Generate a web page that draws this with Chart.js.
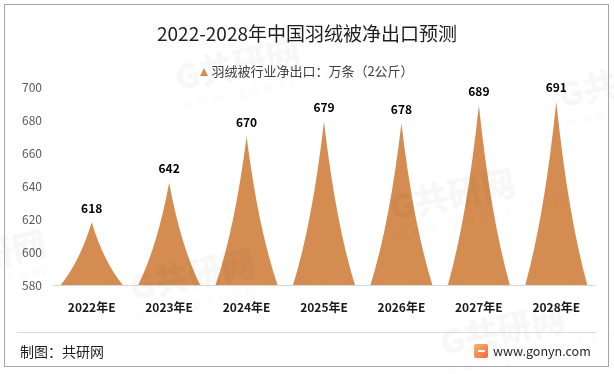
<!DOCTYPE html>
<html>
<head>
<meta charset="utf-8">
<script src="https://cdn.jsdelivr.net/npm/chart.js@4"></script>
<style>
  html, body { margin:0; padding:0; background:#fff; }
  .wrap { position:relative; width:614px; height:374px; overflow:hidden; font-family:"Noto Sans CJK SC","Noto Sans",sans-serif; }
  .wrap canvas { position:absolute; left:0; top:0; }
  .frame { position:absolute; left:4px; top:4px; width:603px; height:361px; border:1px solid #a6a6a6; pointer-events:none; }
  .title { position:absolute; left:0; width:614px; top:20px; text-align:center; font-size:19px; line-height:26px; color:#1e1e1e; }
  .legend { position:absolute; left:0; width:614px; top:62px; text-align:center; font-size:13px; line-height:18px; color:#404040; }
  .legend .mark { display:inline-block; width:0; height:0; border-left:4px solid transparent; border-right:4px solid transparent; border-bottom:8px solid #D48C50; margin-right:3px; vertical-align:0px; }
  .sep { position:absolute; left:17px; width:579px; top:332px; height:1px; background:#d9d9d9; }
  .foot-l { position:absolute; left:20px; top:341px; font-size:14px; line-height:20px; color:#1e1e1e; }
  .foot-r { position:absolute; left:474px; top:341px; font-size:12.5px; line-height:20px; color:#262626; display:flex; align-items:center; gap:5px; }
  .logo { width:14px; height:14px; border-radius:2px; background:linear-gradient(135deg,#f9b26a,#ee6a3c); position:relative; }
  .logo::after { content:''; position:absolute; left:4px; top:6px; width:7px; height:2px; background:#fff; }
  .wm { position:absolute; color:rgba(0,0,0,0.03); font-weight:900; transform:rotate(-12deg); white-space:nowrap; pointer-events:none; }
  .wm b { display:block; font-size:34px; line-height:36px; }
  .wm i { display:block; font-style:normal; font-weight:400; font-size:13px; letter-spacing:6px; }
</style>
</head>
<body>
<div class="wrap">
  <canvas id="chart" width="614" height="374"></canvas>
  <div class="wm" style="left:175px;top:40px"><b>G共研网</b><i>www.gonyn.com</i></div>
  <div class="wm" style="left:390px;top:170px"><b>G共研网</b><i>www.gonyn.com</i></div>
  <div class="wm" style="left:130px;top:250px"><b>G共研网</b><i>www.gonyn.com</i></div>
  <div class="wm" style="left:440px;top:305px"><b>G共研网</b><i>www.gonyn.com</i></div>
  <div class="wm" style="left:560px;top:70px"><b>G共</b><i>www</i></div>
  <div class="wm" style="left:-20px;top:230px"><b>研网</b><i>n.com</i></div>
  <div class="frame"></div>
  <div class="title">2022-2028年中国羽绒被净出口预测</div>
  <div class="legend"><span class="mark"></span>羽绒被行业净出口：万条（2公斤）</div>
  <div class="sep"></div>
  <div class="foot-l">制图：共研网</div>
  <div class="foot-r"><span class="logo"></span><span>www.gonyn.com</span></div>
</div>
<script>
// data
const categories = ['2022年E', '2023年E', '2024年E', '2025年E', '2026年E', '2027年E', '2028年E'];
const netExport  = [618, 642, 670, 679, 678, 689, 691];
const seriesName = '羽绒被行业净出口：万条（2公斤）';
const yMin = 580, yMax = 700, yStep = 20;

const SPIKE = '#D48C50';
const FONT  = '"Noto Sans CJK SC","Noto Sans",sans-serif';

// peaked shapes drawn on top of the (invisible) bar elements
const spikePlugin = {
  id: 'spikes',
  afterDatasetsDraw(chart) {
    const ctx = chart.ctx;
    const meta = chart.getDatasetMeta(0);
    const base = chart.scales.y.getPixelForValue(yMin);
    const c = 0.38;
    ctx.save();
    meta.data.forEach((bar, i) => {
      const { x, y, width } = bar.getProps(['x', 'y', 'width'], true);
      const half = width / 2, h = base - y;
      ctx.fillStyle = SPIKE;
      ctx.beginPath();
      ctx.moveTo(x - half, base);
      ctx.quadraticCurveTo(x - half * c, base - h * c, x, y);
      ctx.quadraticCurveTo(x + half * c, base - h * c, x + half, base);
      ctx.closePath();
      ctx.fill();

      ctx.fillStyle = '#000';
      ctx.font = 'bold 12px ' + FONT;
      ctx.textAlign = 'center';
      ctx.textBaseline = 'middle';
      ctx.fillText(String(netExport[i]), x, y - 14);
    });
    ctx.restore();
  }
};

new Chart(document.getElementById('chart'), {
  type: 'bar',
  data: {
    labels: categories,
    datasets: [{
      label: seriesName,
      data: netExport,
      base: yMin,
      backgroundColor: 'rgba(0,0,0,0)',
      borderWidth: 0,
      categoryPercentage: 1,
      barPercentage: 0.8,
    }],
  },
  options: {
    responsive: false,
    animation: false,
    layout: { padding: { top: 87, right: 19, left: 0, bottom: 0 } },
    plugins: { legend: { display: false }, tooltip: { enabled: false }, title: { display: false } },
    scales: {
      x: {
        grid: { display: false, drawTicks: false },
        border: { display: true, color: '#d9d9d9', width: 1 },
        ticks: { color: '#1a1a1a', padding: 15, font: { family: FONT, size: 12, weight: 'bold' }, maxRotation: 0 },
        afterFit: s => { s.height = 89; },
      },
      y: {
        min: yMin, max: yMax,
        grid: { display: false, drawTicks: false },
        border: { display: false },
        ticks: { stepSize: yStep, color: '#595959', padding: 11, font: { family: FONT, size: 12 } },
        afterFit: s => { s.width = 53; },
      },
    },
  },
  plugins: [spikePlugin],
});
</script>
</body>
</html>
